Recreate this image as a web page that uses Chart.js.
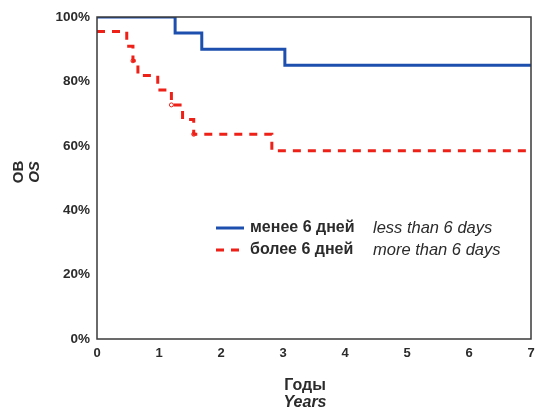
<!DOCTYPE html>
<html>
<head>
<meta charset="utf-8">
<script src="https://cdn.jsdelivr.net/npm/chart.js@4"></script>
<style>
  html, body { margin: 0; padding: 0; background: #fff; }
  #wrap { width: 536px; height: 410px; }
</style>
</head>
<body>
<div id="wrap"><canvas id="osChart" width="536" height="410"></canvas></div>
<script>
// Kaplan-Meier steps (years, % survival)
const lessTimes = [0, 1.26, 1.69, 3.03, 7];
const lessSurv = [100, 95, 90, 85, 85];

const moreTimes = [0, 0.48, 0.58, 0.66, 0.98, 1.2, 1.38, 1.56, 2.82, 7];
const moreSurv = [95.5, 90.9, 86.4, 81.8, 77.3, 72.7, 68.2, 63.6, 58.5, 58.5];

// censored marks on the red curve
const moreCensTimes = [0.58, 1.2, 1.56];
const moreCensSurv = [86.4, 72.7, 63.6];

const seriesRu = ['менее 6 дней', 'более 6 дней'];
const seriesEn = ['less than 6 days', 'more than 6 days'];
const yTitle = ['OB', 'OS'];
const xTitle = ['Годы', 'Years'];

const blue = '#1d4fae';
const red = '#ee2119';
const txt = '#2b2b2b';
const fam = '"Liberation Sans", Arial, sans-serif';

function pts(xs, ys) {
    return xs.map((x, i) => ({x: x, y: ys[i]}));
}

// frame, axis titles and legend drawn by hand (mixed fonts)
const extras = {
    id: 'extras',
    afterDraw(chart) {
        const ctx = chart.ctx;
        const a = chart.chartArea;
        ctx.save();
        ctx.strokeStyle = '#3a3a3a';
        ctx.lineWidth = 1.5;
        ctx.strokeRect(a.left, a.top, a.right - a.left, a.bottom - a.top);

        // y title, rotated
        ctx.fillStyle = txt;
        ctx.translate(27, 172);
        ctx.rotate(-Math.PI / 2);
        ctx.textAlign = 'center';
        ctx.textBaseline = 'middle';
        ctx.font = 'bold 15px ' + fam;
        ctx.fillText(yTitle[0], 0, -8);
        ctx.font = 'italic bold 15px ' + fam;
        ctx.fillText(yTitle[1], 0, 8);
        ctx.restore();

        ctx.save();
        ctx.fillStyle = txt;
        ctx.textAlign = 'center';
        ctx.textBaseline = 'middle';
        ctx.font = 'bold 16px ' + fam;
        ctx.fillText(xTitle[0], 305, 386);
        ctx.font = 'italic bold 16px ' + fam;
        ctx.fillText(xTitle[1], 305, 403);

        // legend
        const rows = [228, 250];
        const colors = [blue, red];
        rows.forEach((y, i) => {
            ctx.strokeStyle = colors[i];
            ctx.lineWidth = 3;
            ctx.setLineDash(i === 1 ? [8, 7] : []);
            ctx.beginPath();
            ctx.moveTo(216, y);
            ctx.lineTo(244, y);
            ctx.stroke();
            ctx.setLineDash([]);
            ctx.textAlign = 'left';
            ctx.fillStyle = txt;
            ctx.font = 'bold 16px ' + fam;
            ctx.fillText(seriesRu[i], 250, y);
            ctx.font = 'italic 16.5px ' + fam;
            ctx.fillText(seriesEn[i], 373, y);
        });
        ctx.restore();
    }
};

new Chart(document.getElementById('osChart'), {
    type: 'line',
    data: {
        datasets: [
            {
                label: seriesRu[0],
                data: pts(lessTimes, lessSurv),
                borderColor: blue,
                borderWidth: 3,
                stepped: 'before',
                pointRadius: 0
            },
            {
                label: seriesRu[1],
                data: pts(moreTimes, moreSurv),
                borderColor: red,
                borderWidth: 3,
                borderDash: [8, 7],
                stepped: 'before',
                pointRadius: 0
            },
            {
                label: 'censored',
                data: pts(moreCensTimes, moreCensSurv),
                showLine: false,
                pointRadius: 2,
                pointBorderWidth: 1,
                pointBorderColor: red,
                pointBackgroundColor: '#fff'
            }
        ]
    },
    options: {
        responsive: false,
        animation: false,
        layout: {padding: {top: 17, right: 4, left: 0, bottom: 0}},
        plugins: {
            legend: {display: false},
            tooltip: {enabled: false}
        },
        scales: {
            x: {
                type: 'linear',
                min: 0,
                max: 7,
                grid: {display: false, tickLength: 0},
                border: {display: false},
                ticks: {
                    stepSize: 1,
                    padding: 7,
                    color: txt,
                    font: {size: 13, weight: 'bold', family: fam}
                },
                afterFit(scale) {
                    scale.height = 71;
                    scale.paddingRight = 0;
                }
            },
            y: {
                min: 0,
                max: 100,
                grid: {display: false, tickLength: 0},
                border: {display: false},
                ticks: {
                    stepSize: 20,
                    padding: 7,
                    color: txt,
                    font: {size: 13.5, weight: 'bold', family: fam},
                    callback: v => v + '%'
                },
                afterFit(scale) { scale.width = 97; }
            }
        }
    },
    plugins: [extras]
});
</script>
</body>
</html>
